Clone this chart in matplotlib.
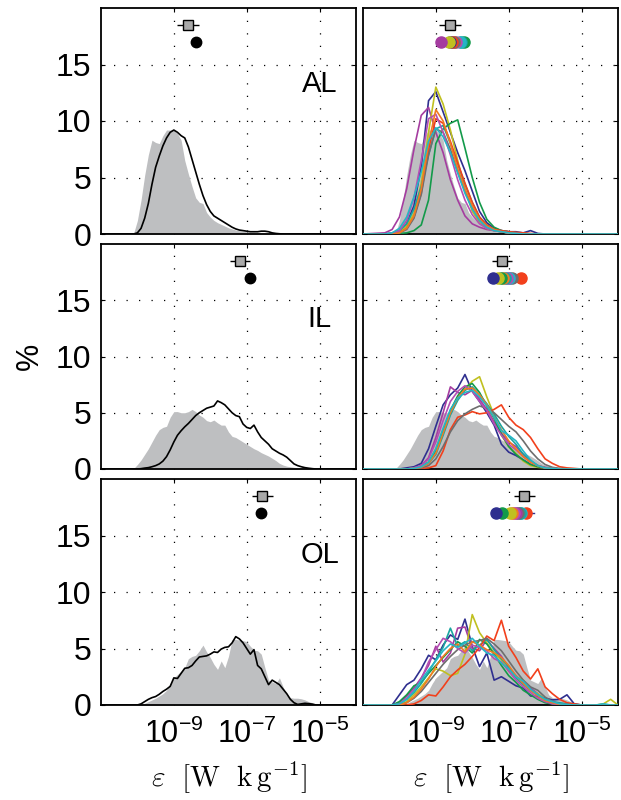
import numpy as np
import matplotlib
matplotlib.use('Agg')
import matplotlib.pyplot as plt
from matplotlib.ticker import FixedLocator, NullLocator

plt.rcParams['font.family'] = ['Liberation Sans', 'DejaVu Sans']
plt.rcParams['mathtext.fontset'] = 'custom'
plt.rcParams['mathtext.rm'] = 'Liberation Sans'
plt.rcParams['mathtext.it'] = 'Liberation Sans:italic'
plt.rcParams['mathtext.bf'] = 'Liberation Sans:bold'

# log10(epsilon) bin centres, 0.1 decade, for the left panels / grey reference
x_fine = np.round(np.arange(-10.5, -4.95, 0.1), 2)

# grey reference histograms (%), same for both columns
al_ref = [0, 0, 0, 0, 0.1, 1.2, 3.0, 5.2, 7.0, 8.3, 8.1, 8.0, 8.7, 9.2, 9.2, 9.2, 8.9, 8.3, 6.5, 5.3,
          4.2, 3.2, 2.8, 2.7, 1.9, 1.5, 1.2, 1.0, 0.85, 0.7, 0.55, 0.45, 0.35, 0.3, 0.25, 0.2, 0.15, 0.15,
          0.1, 0.1, 0.08, 0.05, 0.05, 0.03, 0.02, 0, 0, 0, 0, 0, 0, 0, 0, 0, 0, 0]
il_ref = [0, 0, 0, 0, 0.05, 0.4, 0.8, 1.3, 1.8, 2.4, 3.0, 3.5, 3.7, 3.8, 4.6, 5.1, 5.1, 5.0, 5.0, 5.1,
          5.3, 5.1, 4.8, 4.6, 4.3, 4.2, 4.35, 4.1, 3.9, 3.9, 3.3, 2.9, 2.8, 2.6, 2.4, 2.2, 2.0, 1.8,
          1.65, 1.45, 1.3, 1.15, 0.95, 0.75, 0.5, 0.35, 0.25, 0.2, 0.15, 0.12, 0.1, 0.08, 0.06, 0.05, 0.03, 0]
ol_ref = [0, 0, 0, 0, 0, 0, 0.05, 0.15, 0.3, 0.45, 0.6, 0.8, 1.0, 1.3, 1.9, 2.4, 2.7, 3.0, 3.3, 4.1,
          4.3, 4.4, 4.8, 5.3, 4.7, 4.2, 3.6, 3.15, 3.9, 3.3, 4.3, 5.8, 5.8, 5.75, 5.7, 5.6, 5.2, 4.85,
          4.8, 4.5, 3.3, 2.2, 2.05, 1.9, 2.4, 1.6, 0.9, 0.65, 0.6, 0.6, 0.55, 0.45, 0.3, 0.2, 0.1, 0.02]

# black lines, left panels
al_line = [0, 0, 0, 0, 0, 0.1, 0.5, 1.4, 2.7, 4.4, 5.9, 6.9, 7.8, 8.5, 9.0, 9.2, 9.0, 8.7, 8.5, 7.7,
           6.6, 5.5, 4.4, 3.4, 2.6, 2.0, 1.6, 1.4, 1.2, 1.0, 0.8, 0.6, 0.45, 0.35, 0.3, 0.25, 0.2, 0.2,
           0.2, 0.25, 0.25, 0.2, 0.1, 0.05, 0.02, 0, 0, 0, 0, 0, 0, 0, 0, 0, 0, 0]
il_line = [0, 0, 0, 0, 0, 0, 0.03, 0.08, 0.12, 0.2, 0.3, 0.45, 0.7, 1.1, 1.7, 2.4, 3.0, 3.4, 3.75, 4.05,
           4.4, 4.75, 5.0, 5.2, 5.4, 5.5, 5.6, 6.05, 5.9, 5.7, 5.35, 5.0, 4.75, 4.65, 4.0, 3.7, 3.6, 3.9,
           3.3, 2.8, 2.5, 2.2, 1.8, 1.6, 1.4, 1.25, 1.05, 0.75, 0.45, 0.3, 0.2, 0.12, 0.07, 0.03, 0, 0]
ol_line = [0, 0, 0, 0, 0, 0, 0.1, 0.3, 0.5, 0.65, 0.75, 0.95, 1.2, 1.4, 1.65, 2.4, 2.35, 2.8, 3.25, 3.3,
           3.5, 3.9, 4.25, 4.3, 4.35, 4.5, 4.7, 4.65, 4.95, 5.1, 5.15, 5.5, 6.05, 5.85, 5.5, 5.0, 4.5, 4.9,
           3.5, 3.2, 2.5, 1.8, 2.2, 2.0, 1.8, 1.4, 1.0, 0.5, 0.2, 0.05, 0.1, 0.15, 0.12, 0.08, 0, 0]

# coloured lines, right panels (0.2 decade bins)
colors = ['#2f2f8f', '#a53ca0', '#c0c020', '#139a4a', '#1aa6a0',
          '#f2401c', '#6e6e6e', '#b44fb4', '#f07a22', '#25b5c5']

x_al = np.round(np.arange(-10.4, -5.95, 0.2), 2)
al_cols = [
    [0, 0.1, 0.3, 0.9, 2.5, 6.0, 11.8, 12.6, 10.8, 9.0, 7.2, 5.6, 3.8, 2.0, 1.0, 0.5, 0.3, 0.2, 0.2, 0.1, 0.3, 0.05, 0],
    [0.1, 0.4, 1.5, 4.0, 7.5, 10.5, 11.2, 9.0, 7.2, 4.8, 3.0, 1.6, 0.9, 0.6, 0.4, 0.3, 0.3, 0.2, 0.1, 0.05, 0, 0, 0],
    [0, 0.05, 0.2, 0.7, 1.8, 4.5, 9.0, 13.0, 11.5, 9.2, 6.5, 4.0, 2.0, 1.0, 0.5, 0.3, 0.2, 0.1, 0.05, 0, 0, 0, 0],
    [0, 0, 0.05, 0.1, 0.3, 0.8, 3.0, 8.0, 9.3, 9.8, 10.1, 7.6, 5.0, 2.8, 1.3, 0.6, 0.3, 0.2, 0.1, 0.05, 0, 0, 0],
    [0, 0.05, 0.3, 0.9, 2.2, 4.2, 7.0, 9.3, 9.6, 8.0, 6.2, 4.4, 2.8, 1.5, 0.8, 0.4, 0.2, 0.1, 0.05, 0, 0, 0, 0],
    [0, 0, 0.1, 0.5, 1.5, 3.6, 7.5, 10.2, 9.8, 8.2, 6.3, 4.5, 2.8, 1.5, 0.8, 0.4, 0.3, 0.2, 0.15, 0.1, 0.05, 0, 0],
    [0, 0, 0.1, 0.4, 1.4, 3.5, 7.0, 9.3, 9.0, 7.5, 5.5, 3.8, 2.3, 1.2, 0.6, 0.3, 0.2, 0.1, 0.05, 0, 0, 0, 0],
    [0, 0.05, 0.3, 1.2, 3.2, 6.5, 10.2, 10.6, 9.0, 7.0, 4.8, 3.0, 1.7, 0.9, 0.5, 0.3, 0.2, 0.1, 0.05, 0, 0, 0, 0],
    [0, 0, 0.1, 0.5, 1.6, 4.0, 8.0, 11.0, 10.0, 8.0, 5.8, 4.0, 2.5, 1.3, 0.7, 0.4, 0.2, 0.1, 0.05, 0, 0, 0, 0],
    [0, 0.1, 0.5, 1.5, 3.3, 5.5, 8.2, 9.4, 8.6, 7.2, 5.4, 3.6, 2.2, 1.2, 0.6, 0.3, 0.2, 0.1, 0.05, 0, 0, 0, 0],
]

x_il = np.round(np.arange(-10.2, -4.95, 0.2), 2)
il_cols = [
    [0, 0, 0.1, 0.2, 0.5, 1.8, 3.8, 5.7, 6.6, 7.2, 8.4, 6.9, 6.0, 5.0, 3.9, 2.2, 1.5, 1.2, 0.8, 0.4, 0.2, 0.1, 0.05, 0, 0, 0, 0],
    [0, 0, 0, 0.1, 0.3, 1.0, 2.8, 5.0, 7.3, 6.8, 6.6, 7.0, 6.2, 5.3, 4.2, 3.2, 2.4, 2.0, 1.3, 0.7, 0.3, 0.15, 0.05, 0, 0, 0, 0],
    [0, 0, 0, 0.05, 0.2, 0.6, 1.8, 3.5, 5.0, 6.2, 7.0, 7.8, 8.2, 6.4, 4.8, 3.0, 2.0, 1.4, 0.7, 0.3, 0.15, 0.1, 0.05, 0, 0, 0, 0],
    [0, 0, 0, 0.05, 0.2, 0.6, 1.6, 3.4, 5.2, 6.5, 7.3, 7.6, 6.8, 5.6, 4.5, 3.1, 2.0, 1.3, 0.8, 0.4, 0.2, 0.1, 0.05, 0, 0, 0, 0],
    [0, 0, 0, 0.05, 0.2, 0.5, 1.3, 3.0, 4.8, 6.1, 7.0, 7.3, 6.6, 5.8, 4.9, 3.8, 2.9, 2.2, 1.3, 0.7, 0.3, 0.1, 0.05, 0, 0, 0, 0],
    [0, 0, 0, 0, 0.05, 0.1, 0.3, 1.6, 3.5, 4.6, 4.8, 5.1, 4.9, 5.0, 5.3, 5.7, 4.6, 3.9, 3.5, 2.8, 1.8, 0.9, 0.5, 0.2, 0.1, 0.05, 0],
    [0, 0, 0, 0, 0.1, 0.3, 0.9, 2.0, 3.3, 4.3, 4.9, 5.3, 5.6, 5.4, 5.0, 4.4, 3.8, 3.3, 2.5, 1.6, 0.9, 0.4, 0.15, 0.05, 0, 0, 0],
    [0, 0, 0, 0.1, 0.3, 0.9, 2.4, 4.3, 6.0, 6.9, 7.4, 6.9, 6.0, 5.2, 4.0, 3.0, 2.2, 1.7, 1.1, 0.6, 0.3, 0.1, 0.05, 0, 0, 0, 0],
    [0, 0, 0, 0.05, 0.15, 0.5, 1.4, 3.2, 5.0, 6.3, 7.1, 7.2, 6.6, 5.7, 4.6, 3.5, 2.5, 1.8, 1.1, 0.6, 0.3, 0.1, 0.05, 0, 0, 0, 0],
    [0, 0, 0, 0.05, 0.2, 0.6, 1.8, 3.6, 5.3, 6.3, 6.8, 7.0, 6.4, 5.6, 4.6, 3.4, 3.0, 2.5, 1.6, 0.8, 0.3, 0.1, 0.05, 0, 0, 0, 0],
]

x_ol = np.round(np.arange(-10.4, -4.15, 0.2), 2)
ol_cols = [
    [0, 0, 0.9, 1.8, 2.2, 3.2, 4.4, 4.0, 5.3, 6.2, 5.8, 7.6, 5.2, 3.4, 4.6, 2.2, 2.5, 2.1, 1.7, 1.5, 0.8, 0.75, 0.6, 0.45, 0.5, 0.9, 0.1, 0, 0, 0, 0, 0],
    [0, 0, 0.2, 0.8, 1.5, 2.4, 3.5, 5.2, 3.8, 4.6, 6.8, 6.9, 5.0, 4.8, 5.8, 5.0, 4.3, 3.3, 2.6, 2.0, 1.5, 1.0, 0.5, 0.2, 0.1, 0.05, 0, 0, 0, 0, 0, 0],
    [0, 0, 0, 0.3, 0.9, 1.6, 2.4, 3.2, 3.0, 2.6, 2.8, 4.5, 8.0, 6.4, 5.5, 4.6, 4.0, 3.0, 2.5, 2.2, 1.3, 1.0, 0.5, 0.2, 0.1, 0.05, 0, 0, 0, 0, 0.1, 0.5],
    [0, 0, 0.3, 0.9, 1.7, 2.0, 2.8, 3.5, 4.2, 4.9, 5.6, 5.2, 4.6, 5.8, 5.4, 4.5, 3.5, 2.6, 2.0, 1.3, 0.9, 0.5, 0.2, 0.1, 0.05, 0, 0, 0, 0, 0, 0, 0],
    [0, 0, 0.1, 0.5, 1.1, 1.9, 2.9, 4.0, 5.1, 6.8, 5.2, 5.6, 4.8, 5.3, 5.8, 4.9, 4.1, 3.4, 2.4, 1.8, 1.3, 0.9, 0.5, 0.3, 0.2, 0.1, 0.05, 0, 0, 0, 0.05, 0],
    [0, 0, 0, 0, 0.1, 0.4, 0.9, 0.8, 1.6, 2.5, 3.1, 3.6, 4.3, 5.1, 6.1, 5.7, 7.5, 5.2, 4.2, 3.0, 2.3, 3.2, 1.6, 1.0, 0.5, 0.2, 0.1, 0, 0, 0, 0, 0],
    [0, 0, 0, 0.2, 0.6, 1.2, 2.0, 2.8, 3.6, 4.3, 4.9, 5.3, 5.6, 5.7, 5.9, 5.4, 4.8, 3.9, 3.0, 2.2, 1.6, 1.3, 0.7, 0.3, 0.1, 0.05, 0, 0, 0, 0, 0, 0],
    [0, 0, 0.1, 0.6, 1.3, 2.3, 3.8, 4.9, 5.9, 5.6, 5.0, 4.6, 5.3, 5.1, 4.8, 4.1, 3.8, 3.0, 2.2, 1.6, 1.1, 0.6, 0.3, 0.1, 0.05, 0, 0, 0, 0, 0, 0, 0],
    [0, 0, 0, 0.2, 0.7, 1.4, 2.3, 3.4, 4.3, 5.0, 5.4, 4.7, 5.6, 5.3, 4.9, 4.6, 4.2, 3.5, 2.6, 1.9, 1.3, 0.8, 0.4, 0.2, 0.05, 0, 0, 0, 0, 0, 0, 0],
    [0, 0, 0.1, 0.5, 1.2, 2.2, 3.1, 3.9, 4.8, 5.4, 5.1, 5.5, 5.9, 5.2, 4.6, 4.4, 3.7, 3.2, 2.5, 2.1, 1.4, 0.9, 0.5, 0.3, 0.1, 0.05, 0, 0, 0, 0, 0.1, 0],
]

# summary markers (log10 epsilon): grey square with range, black circle, coloured circles
sq_mid = [-8.62, -7.19, -6.57]
sq_lo = [-8.9, -7.47, -6.85]
sq_hi = [-8.32, -6.9, -6.28]
blk_circ = [-8.4, -6.9, -6.62]
col_circ = [
    [-8.6, -8.85, -8.64, -8.22, -8.3, -8.55, -8.5, -8.45, -8.5, -8.35],
    [-7.44, -6.98, -7.28, -7.2, -7.1, -6.65, -6.9, -7.05, -7.15, -7.0],
    [-7.34, -6.79, -6.97, -7.18, -6.7, -6.52, -6.75, -6.85, -6.9, -6.65],
]
ol_circ_span = [-7.47, -6.3]

row_names = ['AL', 'IL', 'OL']
refs = [al_ref, il_ref, ol_ref]
lines = [al_line, il_line, ol_line]
col_x = [x_al, x_il, x_ol]
col_sets = [al_cols, il_cols, ol_cols]

xmin, xmax = -11, -4
grey = '#bebfc1'
fs = 21

fig = plt.figure(figsize=(6.21, 8.0), dpi=100)
rows_pos = [(0.7075, 0.2825), (0.41375, 0.28125), (0.11875, 0.2825)]
cols_pos = [0.1626, 0.5845]
wid = 0.4106
xlab = r'$\varepsilon\ \ [\mathrm{W\ \ k\,g^{-1}}]$'


def style_ax(ax, show_x, show_y):
    ax.set_xscale('log')
    ax.set_xlim(10.0**xmin, 10.0**xmax)
    ax.set_ylim(0, 20)
    ax.xaxis.set_major_locator(FixedLocator([1e-9, 1e-7, 1e-5]))
    ax.xaxis.set_minor_locator(NullLocator())
    ax.yaxis.set_major_locator(FixedLocator([0, 5, 10, 15]))
    ax.set_xticklabels([r'$10^{-9}$', r'$10^{-7}$', r'$10^{-5}$'] if show_x else [])
    if not show_y:
        ax.set_yticklabels([])
    ax.tick_params(direction='in', top=True, right=True, length=3, width=0.8)
    ax.tick_params(axis='y', pad=7, labelsize=23)
    ax.tick_params(axis='x', pad=10, labelsize=22)
    ax.grid(True, color='black', linestyle=(0, (1, 9)), linewidth=0.9)
    ax.set_axisbelow(True)
    for s in ax.spines.values():
        s.set_linewidth(1.3)


def summary(ax, r):
    m = 10.0**sq_mid[r]
    ax.errorbar(m, 18.5, xerr=[[m - 10.0**sq_lo[r]], [10.0**sq_hi[r] - m]],
                fmt='s', ms=7, mfc='#a9a9a9', mec='black', mew=1.0, ecolor='black',
                elinewidth=1.0, capsize=0, zorder=5)


for r in range(3):
    b, h = rows_pos[r]
    xf = 10.0**x_fine
    # left column
    ax = fig.add_axes([cols_pos[0], b, wid, h])
    style_ax(ax, r == 2, True)
    ax.fill_between(xf, refs[r], 0, color=grey, lw=0, zorder=2)
    ax.plot(10.0**np.r_[xmin, x_fine, xmax], np.r_[0, lines[r], 0], color='black', lw=1.2, zorder=3)
    ax.text(1e-5, 13.3, row_names[r], fontsize=fs, ha='center', va='center')
    summary(ax, r)
    ax.plot(10.0**blk_circ[r], 17, 'o', color='black', ms=7.5, zorder=5)
    if r == 2:
        ax.set_xlabel(xlab, fontsize=21, math_fontfamily='cm', labelpad=7)
    if r == 1:
        ax.set_ylabel('%', fontsize=22, labelpad=8)

    # right column
    ax = fig.add_axes([cols_pos[1], b, wid, h])
    style_ax(ax, r == 2, False)
    ax.fill_between(xf, refs[r], 0, color=grey, lw=0, zorder=2)
    xc = col_x[r]
    for vals, c in zip(col_sets[r], colors):
        ax.plot(10.0**np.r_[xmin, xc, xmax], np.r_[0, vals, 0], color=c, lw=1.2, zorder=3)
    summary(ax, r)
    if r == 2:
        ax.plot(10.0**np.array(ol_circ_span), [17, 17], color=colors[0], lw=1.0, zorder=4)
    order = np.argsort(col_circ[r])[::-1]
    for i in order:
        ax.plot(10.0**col_circ[r][i], 17, 'o', color=colors[i], ms=8, zorder=5)
    if r == 2:
        ax.set_xlabel(xlab, fontsize=21, math_fontfamily='cm', labelpad=7)

fig.savefig('out.png', dpi=100)
